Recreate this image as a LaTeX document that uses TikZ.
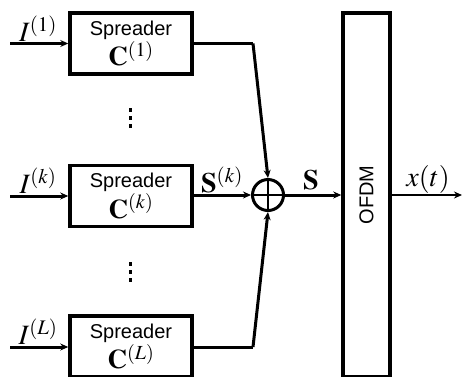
\documentclass[tikz,border=0pt]{standalone}
\usepackage{mathptmx}
\usepackage{fontspec}
\setmainfont{Liberation Sans}
\usetikzlibrary{arrows.meta}
\newcommand{\spr}[1]{{\fontsize{20}{20}\selectfont Spreader}\\[1pt]{\fontsize{27}{27}\selectfont$\mathbf{C}^{(#1)}$}}
\begin{document}
\begin{tikzpicture}[x=1pt,y=-1pt,
  spbox/.style={draw,line width=3.5pt,minimum width=122pt,minimum height=61pt,inner sep=0pt,align=center},
  conn/.style={line width=3pt},
  arr/.style={line width=3pt,-{Stealth[length=8pt,width=7pt]}},
  thinarr/.style={line width=2pt,-{Stealth[length=8pt,width=7pt]}},
  mlab/.style={font=\fontsize{28}{30}\selectfont,inner sep=0pt}
]
\useasboundingbox (0,0) rectangle (462,376);
% spreader boxes
\node[spbox] (b1) at (131,43.5) {\spr{1}};
\node[spbox] (bk) at (131,196) {\spr{k}};
\node[spbox] (bL) at (131,346.5) {\spr{L}};
% inputs
\coordinate (i1) at (10,43.5);
\coordinate (ik) at (10,196);
\coordinate (iL) at (10,347);
\draw[arr] (i1) -- (b1.west);
\draw[arr] (ik) -- (bk.west);
\draw[arr] (iL) -- (bL.west |- iL);
\node[mlab] (l1) at (38,29) {$I^{(1)}$};
\node[mlab] (lk) at (38,181) {$I^{(k)}$};
\node[mlab] (lL) at (38,332) {$I^{(L)}$};
% dots
\foreach \y in {110,118,126} \fill (128.5,\y-2) rectangle (131.5,\y+1.5);
\foreach \y in {264,272,280} \fill (128.5,\y-2) rectangle (131.5,\y+1.5);
% adder
\node[draw,circle,line width=3pt,minimum size=31pt,inner sep=0pt] (sum) at (268,195) {};
\draw[line width=2pt] (sum.north) -- (sum.south) (sum.west) -- (sum.east);
\coordinate (c1) at (253,43.5);
\coordinate (cL) at (253,347);
\draw[conn] (b1.east) -- (c1);
\draw[arr] (c1) -- (sum.north);
\draw[conn] (bL.east |- cL) -- (cL);
\draw[arr] (cL) -- (sum.south);
\draw[arr] (bk.east |- sum) -- (sum.west);
\node[mlab] (sk) at (222,180) {$\mathbf{S}^{(k)}$};
% OFDM
\node[draw,line width=3.5pt,minimum width=47pt,minimum height=364pt,inner sep=0pt] (ofdm) at (366.5,195) {};
\node[rotate=90,font=\fontsize{20}{22}\selectfont] (ot) at (ofdm.center) {OFDM};
\draw[arr] (sum.east) -- (ofdm.west |- sum);
\node[mlab] (sl) at (311,180) {$\mathbf{S}$};
\coordinate (out) at (462,195);
\draw[thinarr] (ofdm.east |- sum) -- (out);
\node[mlab] (xl) at (428,179) {$x(t)$};
\end{tikzpicture}
\end{document}
